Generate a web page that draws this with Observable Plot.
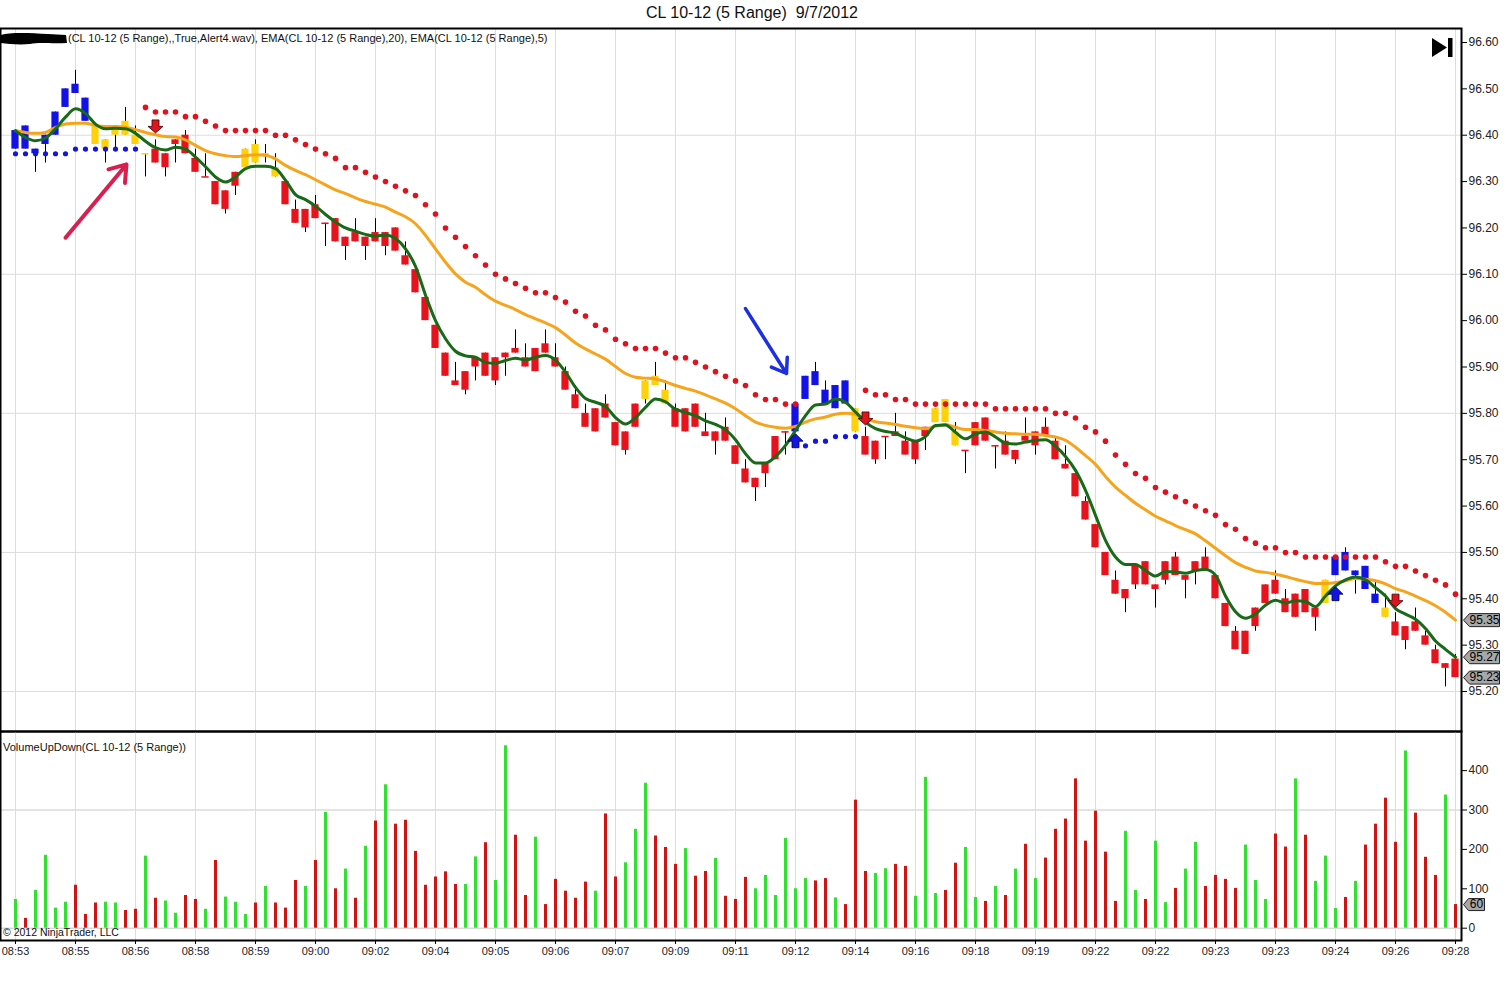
<!DOCTYPE html>
<html><head><meta charset="utf-8">
<script src="https://cdn.jsdelivr.net/npm/d3@7"></script>
<script src="https://cdn.jsdelivr.net/npm/@observablehq/plot@0.6"></script>
<style>
body{margin:0;background:#fff;font-family:"Liberation Sans",Arial,sans-serif;}
#wrap{position:relative;width:1512px;height:985px;overflow:hidden;background:#fff}
.abs{position:absolute;white-space:pre;color:#111}
</style></head><body>
<div id="wrap">
  <div class="abs" id="title" style="left:-4px;top:4px;width:1512px;text-align:center;font-size:16px;">CL 10-12 (5 Range)  9/7/2012</div>
  <div class="abs" id="price" style="left:0;top:28px;width:1512px;height:703px"></div>
  <div class="abs" id="vol" style="left:0;top:731px;width:1512px;height:254px"></div>
  <svg class="abs" style="left:0;top:31px" width="70" height="16"><path d="M1,4 C10,1 30,2 48,3 L66,4 L67,12 C50,13 40,11 30,13 C20,14 8,13 1,12 Z" fill="#000"/></svg>
  <div class="abs" id="legend" style="left:68px;top:32px;font-size:11px;">(CL 10-12 (5 Range),,True,Alert4.wav), EMA(CL 10-12 (5 Range),20), EMA(CL 10-12 (5 Range),5)</div>
  <div class="abs" id="vlegend" style="left:3px;top:741px;font-size:11px;">VolumeUpDown(CL 10-12 (5 Range))</div>
  <div class="abs" id="copy" style="left:3px;top:926px;font-size:10.5px;">© 2012 NinjaTrader, LLC</div>
  <svg class="abs" style="left:1432px;top:38px" width="22" height="20"><path d="M0,0 L15,9.5 L0,19 Z" fill="#000"/><rect x="16" y="0" width="4.5" height="19" fill="#000"/></svg>
</div>
<script>
// ---------- DATA ----------
const timeLabels = ["08:53","08:55","08:56","08:58","08:59","09:00","09:02","09:04","09:05","09:06","09:07","09:09","09:11","09:12","09:14","09:16","09:18","09:19","09:22","09:22","09:23","09:23","09:24","09:26","09:28"];
const priceTicks = [95.20,95.30,95.40,95.50,95.60,95.70,95.80,95.90,96.00,96.10,96.20,96.30,96.40,96.50,96.60];
const priceGrid = [95.20,95.50,95.80,96.10,96.40];
const volTicks = [0,100,200,300,400];
const volGrid = [0,300];

const open = [96.37,96.37,96.36,96.38,96.40,96.46,96.49,96.43,96.42,96.39,
96.42,96.43,96.40,96.36,96.37,96.36,96.39,96.40,96.35,96.31,
96.30,96.28,96.32,96.37,96.38,96.36,96.33,96.30,96.24,96.24,
96.25,96.21,96.22,96.18,96.19,96.18,96.19,96.19,96.20,96.14,
96.11,96.05,95.99,95.93,95.87,95.89,95.92,95.93,95.92,95.93,
95.94,95.92,95.94,95.95,95.92,95.89,95.84,95.80,95.81,95.82,
95.78,95.76,95.82,95.87,95.88,95.85,95.81,95.81,95.82,95.76,
95.76,95.77,95.73,95.68,95.66,95.69,95.75,95.76,95.76,95.83,
95.86,95.82,95.81,95.82,95.81,95.75,95.74,95.75,95.76,95.74,
95.74,95.77,95.81,95.83,95.76,95.72,95.78,95.79,95.73,95.74,
95.72,95.75,95.76,95.77,95.74,95.69,95.67,95.61,95.56,95.50,
95.44,95.42,95.47,95.48,95.43,95.48,95.49,95.45,95.48,95.49,
95.45,95.39,95.33,95.33,95.38,95.43,95.44,95.40,95.41,95.42,
95.38,95.39,95.45,95.46,95.45,95.42,95.39,95.38,95.35,95.34,
95.35,95.32,95.29,95.26,95.27];
const high = [96.41,96.42,96.37,96.40,96.45,96.50,96.54,96.48,96.42,96.39,
96.42,96.46,96.42,96.36,96.39,96.36,96.39,96.41,96.37,96.36,
96.30,96.28,96.32,96.37,96.39,96.38,96.36,96.30,96.26,96.24,
96.27,96.21,96.22,96.18,96.22,96.18,96.22,96.19,96.20,96.17,
96.11,96.05,95.99,95.93,95.91,95.89,95.92,95.93,95.92,95.93,
95.98,95.95,95.94,95.98,95.95,95.90,95.86,95.82,95.81,95.84,
95.78,95.76,95.82,95.87,95.91,95.87,95.82,95.81,95.82,95.80,
95.76,95.79,95.73,95.70,95.66,95.69,95.75,95.76,95.82,95.88,
95.91,95.87,95.86,95.87,95.81,95.77,95.74,95.75,95.80,95.76,
95.74,95.77,95.81,95.83,95.78,95.72,95.78,95.79,95.73,95.76,
95.72,95.79,95.76,95.79,95.75,95.73,95.67,95.62,95.56,95.50,
95.46,95.42,95.47,95.48,95.43,95.48,95.50,95.45,95.48,95.51,
95.45,95.39,95.34,95.33,95.38,95.43,95.46,95.42,95.41,95.42,
95.38,95.44,95.49,95.51,95.46,95.47,95.44,95.41,95.37,95.34,
95.38,95.33,95.30,95.26,95.28];
const low = [96.37,96.37,96.32,96.34,96.40,96.46,96.49,96.43,96.38,96.34,
96.37,96.40,96.38,96.31,96.34,96.31,96.34,96.36,96.32,96.31,
96.25,96.23,96.27,96.33,96.34,96.34,96.31,96.25,96.21,96.19,
96.22,96.16,96.17,96.13,96.17,96.13,96.17,96.14,96.15,96.12,
96.06,96.00,95.94,95.88,95.86,95.84,95.87,95.88,95.86,95.88,
95.93,95.90,95.89,95.93,95.90,95.85,95.81,95.77,95.76,95.79,
95.73,95.71,95.77,95.82,95.86,95.82,95.77,95.76,95.77,95.75,
95.71,95.74,95.69,95.65,95.61,95.64,95.70,95.71,95.76,95.83,
95.86,95.82,95.81,95.82,95.76,95.71,95.69,95.70,95.75,95.71,
95.69,95.72,95.78,95.78,95.73,95.67,95.73,95.74,95.68,95.71,
95.69,95.74,95.71,95.75,95.70,95.68,95.62,95.57,95.51,95.45,
95.41,95.37,95.42,95.43,95.38,95.43,95.45,95.40,95.43,95.46,
95.40,95.34,95.29,95.28,95.33,95.39,95.41,95.37,95.36,95.37,
95.33,95.39,95.45,95.46,95.41,95.42,95.39,95.36,95.32,95.29,
95.33,95.30,95.26,95.21,95.23];
const close = [96.41,96.42,96.37,96.40,96.45,96.50,96.51,96.48,96.38,96.37,
96.40,96.40,96.38,96.36,96.34,96.33,96.38,96.36,96.32,96.31,
96.25,96.24,96.29,96.33,96.34,96.36,96.31,96.25,96.21,96.20,
96.22,96.21,96.17,96.16,96.17,96.16,96.17,96.16,96.15,96.12,
96.06,96.00,95.94,95.88,95.86,95.85,95.90,95.88,95.87,95.92,
95.93,95.90,95.89,95.93,95.90,95.85,95.81,95.77,95.76,95.79,
95.73,95.72,95.77,95.83,95.86,95.82,95.77,95.76,95.77,95.75,
95.74,95.74,95.69,95.65,95.64,95.67,95.70,95.76,95.82,95.88,
95.89,95.85,95.86,95.87,95.76,95.71,95.70,95.75,95.75,95.71,
95.70,95.75,95.78,95.78,95.73,95.72,95.73,95.74,95.73,95.71,
95.70,95.74,95.73,95.75,95.70,95.68,95.62,95.57,95.51,95.45,
95.41,95.40,95.43,95.43,95.42,95.44,95.45,95.44,95.46,95.46,
95.40,95.34,95.29,95.28,95.34,95.39,95.41,95.37,95.36,95.37,
95.36,95.44,95.49,95.50,95.46,95.47,95.41,95.36,95.32,95.31,
95.33,95.30,95.26,95.25,95.23];
// bar paint: B blue, Y gold, R red
const barPaint = ("BBBBBBBBYY"+"YYYYRRRRRR"+"RRRYYYYRRR"+"RRRRRRRRRR"+"RRRRRRRRRR"+"RRRRRRRRRR"+
  "RRRYYYRRRR"+"RRRRRRRRBB"+"BBBBYRRRRR"+"RRYYYRRRRR"+"RRRRRRRRRR"+"RRRRRRRRRR"+"RRRRRRRRRR"+
  "RYBBBBBYRR"+"RRRRR").split("");
const ema20 = [96.410,96.406,96.404,96.406,96.417,96.424,96.426,96.426,96.421,96.419,
96.419,96.417,96.412,96.406,96.401,96.397,96.396,96.390,96.378,96.367,
96.360,96.356,96.354,96.356,96.358,96.357,96.349,96.335,96.324,96.315,
96.304,96.293,96.282,96.274,96.265,96.257,96.251,96.245,96.234,96.224,
96.209,96.184,96.155,96.126,96.101,96.083,96.072,96.056,96.042,96.033,
96.024,96.013,96.004,95.995,95.985,95.969,95.952,95.939,95.928,95.917,
95.901,95.886,95.878,95.876,95.874,95.868,95.860,95.854,95.848,95.840,
95.831,95.822,95.810,95.795,95.781,95.774,95.770,95.768,95.772,95.781,
95.788,95.792,95.798,95.800,95.798,95.788,95.782,95.779,95.776,95.772,
95.769,95.767,95.772,95.776,95.770,95.765,95.765,95.763,95.760,95.757,
95.756,95.755,95.755,95.752,95.749,95.742,95.727,95.709,95.690,95.664,
95.641,95.623,95.606,95.592,95.578,95.568,95.558,95.549,95.540,95.525,
95.509,95.493,95.478,95.468,95.460,95.457,95.453,95.448,95.442,95.437,
95.433,95.433,95.435,95.439,95.444,95.442,95.439,95.432,95.422,95.415,
95.406,95.396,95.385,95.371,95.354];
const ema5 = [96.410,96.395,96.388,96.394,96.414,96.439,96.457,96.447,96.424,96.414,
96.415,96.414,96.404,96.387,96.373,96.368,96.374,96.370,96.353,96.332,
96.310,96.299,96.310,96.328,96.333,96.333,96.328,96.303,96.272,96.261,
96.247,96.229,96.213,96.200,96.193,96.186,96.182,96.185,96.177,96.155,
96.117,96.055,96.000,95.961,95.934,95.924,95.921,95.910,95.908,95.914,
95.919,95.915,95.921,95.925,95.915,95.889,95.856,95.832,95.824,95.815,
95.791,95.777,95.791,95.813,95.831,95.825,95.809,95.802,95.795,95.784,
95.776,95.765,95.743,95.713,95.693,95.693,95.707,95.731,95.763,95.795,
95.818,95.820,95.831,95.824,95.803,95.781,95.767,95.761,95.757,95.747,
95.740,95.750,95.774,95.775,95.759,95.745,95.756,95.760,95.749,95.736,
95.734,95.738,95.742,95.743,95.729,95.707,95.677,95.634,95.580,95.526,
95.490,95.474,95.474,95.461,95.449,95.459,95.458,95.455,95.461,95.463,
95.451,95.406,95.372,95.358,95.367,95.386,95.397,95.391,95.396,95.394,
95.383,95.406,95.428,95.441,95.447,95.441,95.424,95.406,95.379,95.367,
95.356,95.336,95.309,95.291,95.274];
const stopAbove = [null,null,null,null,null,null,null,null,null,null,
null,null,null,96.46,96.45,96.45,96.45,96.44,96.44,96.43,
96.42,96.41,96.41,96.41,96.41,96.41,96.40,96.40,96.39,96.38,
96.37,96.36,96.35,96.33,96.33,96.32,96.31,96.30,96.29,96.28,
96.27,96.25,96.23,96.20,96.18,96.16,96.14,96.12,96.10,96.09,
96.08,96.07,96.06,96.06,96.05,96.04,96.02,96.01,95.99,95.98,
95.96,95.95,95.94,95.94,95.94,95.93,95.92,95.92,95.91,95.90,
95.89,95.88,95.87,95.86,95.84,95.83,95.83,95.82,95.82,null,
null,null,null,null,null,95.85,95.84,95.84,95.83,95.83,
95.82,95.82,95.82,95.82,95.82,95.82,95.82,95.82,95.81,95.81,
95.81,95.81,95.81,95.81,95.80,95.80,95.79,95.77,95.76,95.74,
95.71,95.69,95.67,95.66,95.64,95.63,95.62,95.61,95.60,95.59,
95.58,95.56,95.55,95.53,95.52,95.51,95.51,95.50,95.50,95.49,
95.49,95.49,95.49,95.49,95.49,95.49,95.49,95.48,95.47,95.47,
95.46,95.45,95.44,95.43,95.41];
const stopBelow = [96.36,96.36,96.36,96.36,96.36,96.36,96.37,96.37,96.37,96.37,
96.37,96.37,96.37,null,null,null,null,null,null,null,
null,null,null,null,null,null,null,null,null,null,
null,null,null,null,null,null,null,null,null,null,
null,null,null,null,null,null,null,null,null,null,
null,null,null,null,null,null,null,null,null,null,
null,null,null,null,null,null,null,null,null,null,
null,null,null,null,null,null,null,null,null,95.73,
95.74,95.74,95.75,95.75,95.75,null,null,null,null,null,
null,null,null,null,null,null,null,null,null,null,
null,null,null,null,null,null,null,null,null,null,
null,null,null,null,null,null,null,null,null,null,
null,null,null,null,null,null,null,null,null,null,
null,null,null,null,null,null,null,null,null,null,
null,null,null,null,null];
const volume = [73,25,96,185,51,66,109,35,64,66,
64,45,48,183,76,69,38,83,73,48,
172,79,66,35,64,106,64,51,121,106,
172,294,100,150,76,208,272,364,264,274,
195,109,130,143,111,111,181,217,121,463,
236,83,231,60,124,94,76,117,94,290,
130,166,251,368,234,205,162,202,132,144,
177,81,73,129,100,134,83,228,100,126,
120,126,77,60,325,144,139,151,162,157,
81,383,88,96,165,205,78,68,106,83,
150,213,126,178,251,277,379,221,297,193,
68,246,96,73,221,65,101,150,218,106,
134,124,101,211,121,73,239,206,379,236,
119,183,50,78,119,211,264,330,218,450,
292,180,134,338,60];
// volume direction: G up, R down
const volDir = ("GRGGGGRRRG"+"GRRGRGGRRG"+"RGGGRGRRRG"+"RGRGRGRGRR"+"RRRRRGGRGG"+"RRGRRRRRGR"+
  "RGGGRRRGRR"+"GRRRGGGGGG"+"RRGRRRGGRR"+"GGGRRGGRGR"+"GRGRRRRRRR"+"RGGRGGRGGR"+"RRRGGGRRGR"+
  "GGGRGRRRRG"+"RRRGR").split("");
// signal arrows (bar index, direction, price level)
const signalBar = [14, 78, 85, 132, 138];
const signalDir = ["down","up","down","up","down"];
const signalPrice = [96.419, 95.741, 95.789, 95.411, 95.396];
// hand-drawn annotation arrows (bar index / price)
const noteFromBar = [5, 73];
const noteFromPrice = [96.179, 96.026];
const noteToBar = [11.1, 77.1];
const noteToPrice = [96.337, 95.886];

// ---------- BUILD ----------
const N = open.length;
const idx = d3.range(N);
const tickIdx = d3.range(0, N, 6);
const paint = {B:"#1212e6", Y:"#ffd208", R:"#e8121c"};
const bars = idx.map(i => ({i, o:open[i], h:high[i], l:low[i], c:close[i], col: paint[barPaint[i]]}));
const signals = signalBar.map((b,k) => ({i:b, dir:signalDir[k], p:signalPrice[k]}));
const notes = noteFromBar.map((b,k) => ({x1:b, y1:noteFromPrice[k], x2:noteToBar[k], y2:noteToPrice[k]}));
const tags = [{v: ema20[N-1]}, {v: ema5[N-1]}, {v: close[N-1]}];

const downArrow = {draw(c){c.moveTo(-3.5,-6.5);c.lineTo(3.5,-6.5);c.lineTo(3.5,0);c.lineTo(7.5,0);c.lineTo(0,6.5);c.lineTo(-7.5,0);c.lineTo(-3.5,0);c.closePath();}};
const upArrow = {draw(c){c.moveTo(-3.5,7);c.lineTo(3.5,7);c.lineTo(3.5,0.5);c.lineTo(7.5,0.5);c.lineTo(0,-7);c.lineTo(-7.5,0.5);c.lineTo(-3.5,0.5);c.closePath();}};
const tagShape = {draw(c){c.moveTo(2,0);c.lineTo(8,-6.5);c.lineTo(38,-6.5);c.lineTo(38,6.5);c.lineTo(8,6.5);c.closePath();}};
const tagShapeSmall = {draw(c){c.moveTo(2,0);c.lineTo(7,-6);c.lineTo(23,-6);c.lineTo(23,6);c.lineTo(7,6);c.closePath();}};

const style = {fontFamily:"'Liberation Sans', Arial, sans-serif", fontSize:"11px", background:"transparent", overflow:"visible", color:"#000"};
const gridColor = "#dcdcdc";

const pricePlot = Plot.plot({
  width:1512, height:703, marginTop:0, marginBottom:0, marginLeft:0, marginRight:51,
  style,
  x:{domain:[0, N-1], range:[15, 1455], axis:null},
  y:{domain:[95.20, 96.60], range:[663, 14]},
  color:{type:"identity"},
  marks:[
    Plot.gridY(priceGrid, {stroke:gridColor, strokeOpacity:1}),
    Plot.gridX(tickIdx, {stroke:gridColor, strokeOpacity:1}),
    Plot.ruleX(bars, {x:"i", y1:"l", y2:"h", stroke:"#000", strokeWidth:1}),
    Plot.rect(bars.filter(d => d.o !== d.c), {x1:d=>d.i-0.36, x2:d=>d.i+0.36, y1:"o", y2:"c", fill:"col"}),
    Plot.ruleY(bars.filter(d => d.o === d.c), {y:"o", x1:d=>d.i-0.36, x2:d=>d.i+0.36, stroke:"col", strokeWidth:1.5}),
    Plot.line(idx, {x:i=>i, y:i=>ema20[i], stroke:"#f5a41c", strokeWidth:3, curve:"monotone-x"}),
    Plot.line(idx, {x:i=>i, y:i=>ema5[i], stroke:"#176a17", strokeWidth:3, curve:"monotone-x"}),
    Plot.dot(idx.filter(i => stopAbove[i] != null), {x:i=>i, y:i=>stopAbove[i], r:2.8, fill:"#e0121e", stroke:"none"}),
    Plot.dot(idx.filter(i => stopBelow[i] != null), {x:i=>i, y:i=>stopBelow[i], r:2.6, fill:"#1515e0", stroke:"none"}),
    Plot.dot(signals.filter(s => s.dir === "down"), {x:"i", y:"p", symbol:downArrow, fill:"#e0141c", stroke:"#3a0000", strokeWidth:0.8}),
    Plot.dot(signals.filter(s => s.dir === "up"), {x:"i", y:"p", symbol:upArrow, fill:"#1414e0", stroke:"#00003a", strokeWidth:0.8}),
    Plot.arrow(notes.slice(0,1), {x1:"x1", y1:"y1", x2:"x2", y2:"y2", stroke:"#d81f4d", strokeWidth:4, headLength:7, headAngle:70}),
    Plot.arrow(notes.slice(1,2), {x1:"x1", y1:"y1", x2:"x2", y2:"y2", stroke:"#1c30e2", strokeWidth:3.5, headLength:7, headAngle:70}),
    Plot.axisY(priceTicks, {anchor:"right", tickSize:5, tickPadding:2, tickFormat:d=>d.toFixed(2), fontSize:12, fill:"#222", label:null}),
    Plot.dot(tags, {y:"v", frameAnchor:"right", symbol:tagShape, fill:"#a8a8a8", stroke:"#222", strokeWidth:1}),
    Plot.text(tags, {y:"v", frameAnchor:"right", dx:23, text:d=>d.v.toFixed(2), textAnchor:"middle", fontSize:12, fill:"#000"}),
    Plot.frame({stroke:"#000", strokeWidth:2})
  ]
});
document.getElementById("price").appendChild(pricePlot);

const volTag = [{v: volume[N-1]}];
const volPlot = Plot.plot({
  width:1512, height:254, marginTop:0, marginBottom:45, marginLeft:0, marginRight:51,
  style,
  x:{domain:[0, N-1], range:[15, 1455]},
  y:{domain:[0, 400], range:[196.7, 39.1]},
  color:{type:"identity"},
  marks:[
    Plot.gridY(volGrid, {stroke:"#c8c8c8", strokeOpacity:1}),
    Plot.gridX(tickIdx, {stroke:gridColor, strokeOpacity:1}),
    Plot.ruleX(idx, {x:i=>i, y1:0, y2:i=>volume[i], stroke:i=>volDir[i]==="G" ? "#33df33" : "#cf1414", strokeWidth:3}),
    Plot.axisY(volTicks, {anchor:"right", tickSize:5, tickPadding:2, fontSize:12, fill:"#222", label:null}),
    Plot.axisX(tickIdx, {anchor:"bottom", tickSize:4, tickPadding:3, tickFormat:i=>timeLabels[i/6], fontSize:11, fill:"#222", label:null}),
    Plot.dot(volTag, {y:"v", frameAnchor:"right", symbol:tagShapeSmall, fill:"#a8a8a8", stroke:"#222", strokeWidth:1}),
    Plot.text(volTag, {y:"v", frameAnchor:"right", dx:15, text:d=>String(d.v), textAnchor:"middle", fontSize:12, fill:"#000"}),
    Plot.frame({stroke:"#000", strokeWidth:2})
  ]
});
document.getElementById("vol").appendChild(volPlot);
</script>
</body></html>
